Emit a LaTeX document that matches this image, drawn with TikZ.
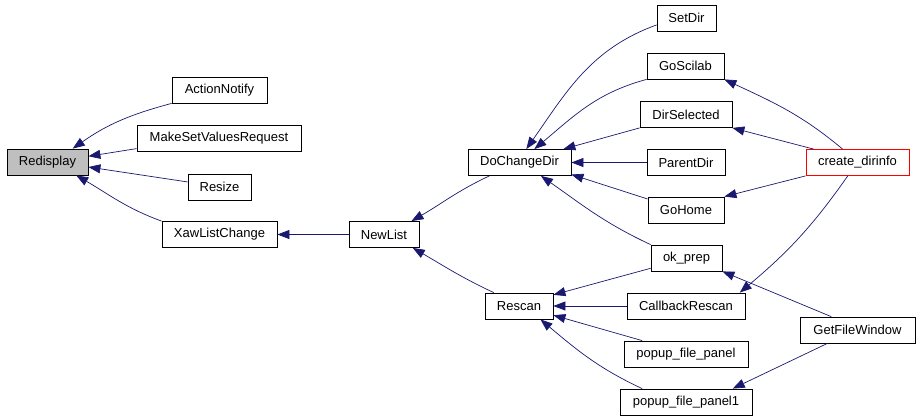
\documentclass[tikz,border=0pt]{standalone}
\usepackage{fontspec}
\setmainfont{Liberation Sans}
\usetikzlibrary{arrows.meta}
\definecolor{edgeblue}{HTML}{191970}
\definecolor{hilite}{HTML}{BFBFBF}

\begin{document}
\begin{tikzpicture}[x=1pt,y=1pt,
	fn/.style={draw=black,line width=0.8pt,minimum height=26pt,inner sep=0pt,font=\fontsize{13}{15}\selectfont},
	call/.style={draw=edgeblue,line width=0.7pt,-{Triangle[length=12pt,width=9pt]}}]
	\useasboundingbox (0,0) rectangle (919,-418);
	\node[fn,fill=hilite,minimum width=81pt] (Redisplay) at (47.5,-162) {Redisplay};
	\node[fn,minimum width=95pt] (ActionNotify) at (219.5,-90) {ActionNotify};
	\node[fn,minimum width=164pt] (MakeSetValuesRequest) at (219,-138.5) {MakeSetValuesRequest};
	\node[fn,minimum width=63pt] (Resize) at (219.5,-187) {Resize};
	\node[fn,minimum width=115pt] (XawListChange) at (219.5,-234.5) {XawListChange};
	\node[fn,minimum width=70pt] (NewList) at (384,-234.5) {NewList};
	\node[fn,minimum width=103pt] (DoChangeDir) at (519.5,-162.5) {DoChangeDir};
	\node[fn,minimum width=68pt] (Rescan) at (519,-306) {Rescan};
	\node[fn,minimum width=59pt] (SetDir) at (686.5,-18) {SetDir};
	\node[fn,minimum width=77pt] (GoScilab) at (685.5,-66) {GoScilab};
	\node[fn,minimum width=92pt] (DirSelected) at (686,-114.5) {DirSelected};
	\node[fn,minimum width=78pt] (ParentDir) at (686,-162.5) {ParentDir};
	\node[fn,minimum width=76pt] (GoHome) at (686,-210) {GoHome};
	\node[fn,minimum width=71pt] (ok_prep) at (686.5,-258) {ok\_prep};
	\node[fn,minimum width=118pt] (CallbackRescan) at (686,-306) {CallbackRescan};
	\node[fn,minimum width=124pt] (popup_file_panel) at (686,-354) {popup\_file\_panel};
	\node[fn,minimum width=132pt] (popup_file_panel1) at (686,-402) {popup\_file\_panel1};
	\node[fn,draw=red,minimum width=103pt] (create_dirinfo) at (857.5,-162.5) {create\_dirinfo};
	\node[fn,minimum width=115pt] (GetFileWindow) at (857.5,-330) {GetFileWindow};
	\draw[call]
	(ActionNotify.south west) to[out=195,in=35] (Redisplay.28);
	\draw[call]
	(MakeSetValuesRequest.187) -- (Redisplay.8);
	\draw[call]
	(Resize.171) -- (Redisplay.-7);
	\draw[call]
	(XawListChange.north west) to[out=160,in=-30] (Redisplay.-25);
	\draw[call]
	(NewList.west) -- (XawListChange.east);
	\draw[call]
	(DoChangeDir.204) to[out=205,in=30] (NewList.26);
	\draw[call]
	(Rescan.152) to[out=155,in=-30] (NewList.-25);
	\draw[call]
	(SetDir.193) to[out=200,in=55] (DoChangeDir.63);
	\draw[call]
	(GoScilab.south west) to[out=195,in=40] (DoChangeDir.42);
	\draw[call]
	(DirSelected.south west) -- (DoChangeDir.17);
	\draw[call]
	(ParentDir.west) -- (DoChangeDir.east);
	\draw[call]
	(GoHome.164) -- (DoChangeDir.-13);
	\draw[call]
	(ok_prep.north west) to[out=155,in=-35] (DoChangeDir.-32);
	\draw[call]
	(ok_prep.196) -- (Rescan.18);
	\draw[call]
	(CallbackRescan.west) -- (Rescan.east);
	\draw[call]
	(popup_file_panel.163) -- (Rescan.-15);
	\draw[call]
	(popup_file_panel1.163) to[out=155,in=-40] (Rescan.-32);
	\draw[call]
	(create_dirinfo.138) to[out=140,in=-25] (GoScilab.south east);
	\draw[call]
	(create_dirinfo.163) -- (DirSelected.south east);
	\draw[call]
	(create_dirinfo.south west) -- (GoHome.north east);
	\draw[call]
	(create_dirinfo.234) to[out=235,in=40] (CallbackRescan.14);
	\draw[call]
	(GetFileWindow.153) -- (ok_prep.south east);
	\draw[call]
	(GetFileWindow.204) -- (popup_file_panel1.16);
\end{tikzpicture}
\end{document}
